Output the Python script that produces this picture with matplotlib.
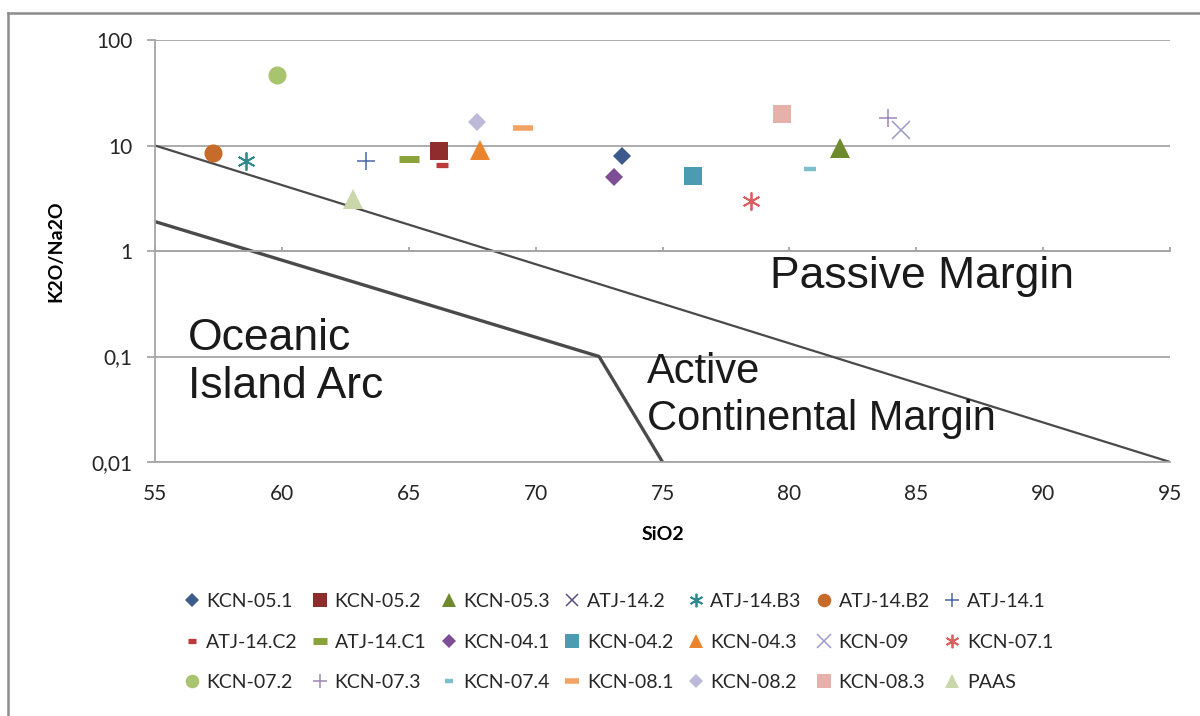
import numpy as np
import matplotlib
matplotlib.use("Agg")
import matplotlib.pyplot as plt
from matplotlib.lines import Line2D

# sample names, in legend order (row by row)
names = ["KCN-05.1", "KCN-05.2", "KCN-05.3", "ATJ-14.2", "ATJ-14.B3", "ATJ-14.B2", "ATJ-14.1",
         "ATJ-14.C2", "ATJ-14.C1", "KCN-04.1", "KCN-04.2", "KCN-04.3", "KCN-09", "KCN-07.1",
         "KCN-07.2", "KCN-07.3", "KCN-07.4", "KCN-08.1", "KCN-08.2", "KCN-08.3", "PAAS"]
sio2 = [73.4, 66.2, 82.0, np.nan, 58.6, 57.3, 63.3,
        66.3, 65.0, 73.1, 76.2, 67.8, 84.4, 78.5,
        59.8, 83.9, 80.8, 69.5, 67.7, 79.7, 62.8]
k2o_na2o = [7.9, 8.8, 9.4, np.nan, 7.2, 8.4, 7.2,
            6.5, 7.4, 5.0, 5.1, 9.0, 14.1, 3.0,
            47.0, 18.3, 6.0, 14.6, 16.6, 20.0, 3.1]

# discrimination boundaries
passive_x = [55, 95]
passive_y = [10, 0.01]
arc_x = [55, 72.5, 75]
arc_y = [1.9, 0.1, 0.01]

x_ticks = [55, 60, 65, 70, 75, 80, 85, 90, 95]
y_ticks = [0.01, 0.1, 1, 10, 100]
y_tick_labels = ["0,01", "0,1", "1", "10", "100"]

# marker, size, edge width, color
styles = {
    "KCN-05.1": ("D", 9.5, 0, "#3d5a8c"),
    "KCN-05.2": ("s", 13, 0, "#8e2d2b"),
    "KCN-05.3": ("^", 14, 0, "#6f8a2c"),
    "ATJ-14.2": ("x", 12, 1.1, "#5e4d7c"),
    "ATJ-14.B3": ((6, 2, 0), 13, 1.3, "#2f8a8e"),
    "ATJ-14.B2": ("o", 13, 0, "#c66b2a"),
    "ATJ-14.1": ("+", 13, 1.1, "#4a66a8"),
    "ATJ-14.C2": ("_", 8.5, 3.8, "#bb3a3a"),
    "ATJ-14.C1": ("_", 14, 5, "#89a23a"),
    "KCN-04.1": ("D", 9.5, 0, "#7d4e96"),
    "KCN-04.2": ("s", 13, 0, "#4b9cb0"),
    "KCN-04.3": ("^", 14, 0, "#ea842f"),
    "KCN-09": ("x", 13, 1.1, "#9c9acb"),
    "KCN-07.1": ((6, 2, 0), 13, 1.3, "#d9605e"),
    "KCN-07.2": ("o", 13, 0, "#a9c46f"),
    "KCN-07.3": ("+", 13, 1.1, "#9d87b8"),
    "KCN-07.4": ("_", 8, 3.2, "#7cc0cd"),
    "KCN-08.1": ("_", 14, 4, "#f3a363"),
    "KCN-08.2": ("D", 9.5, 0, "#bcbad8"),
    "KCN-08.3": ("s", 13, 0, "#e6b0ab"),
    "PAAS": ("^", 14, 0, "#cad7ab"),
}

plt.rcParams["font.family"] = ["Lato", "DejaVu Sans"]
grid_col = "#a6a6a6"

fig = plt.figure(figsize=(12, 7.16), dpi=100)
ax = fig.add_axes([155 / 1200, 1 - 462 / 716, 1015 / 1200, 422 / 716])

ax.plot(passive_x, passive_y, color="#4a4a4a", lw=1.6, zorder=2)
ax.plot(arc_x, arc_y, color="#4a4a4a", lw=2.4, zorder=2)

handles = []
for name, x, y in zip(names, sio2, k2o_na2o):
    m, ms, mew, c = styles[name]
    line, = ax.plot([x], [y], linestyle="none", marker=m, markersize=ms,
                    markeredgewidth=mew, color=c, markeredgecolor=c, label=name, zorder=3)
    handles.append(line)

ax.set_yscale("log")
ax.set_xlim(55, 95)
ax.set_ylim(0.01, 100)
ax.set_xticks(x_ticks)
ax.set_yticks(y_ticks)
ax.set_yticklabels(y_tick_labels)
ax.yaxis.set_minor_locator(matplotlib.ticker.NullLocator())
ax.grid(axis="y", color=grid_col, lw=1.3, zorder=0)

ax.spines["right"].set_visible(False)
ax.spines["left"].set_color(grid_col)
ax.spines["left"].set_linewidth(1.3)
ax.spines["bottom"].set_color(grid_col)
ax.spines["bottom"].set_linewidth(1.3)
# horizontal axis crosses at 1, like the spreadsheet chart
ax.spines["top"].set_position(("data", 1))
ax.spines["top"].set_color(grid_col)
ax.spines["top"].set_linewidth(1.3)

ax.tick_params(axis="y", direction="out", length=6, width=1.3, color=grid_col,
               pad=10, labelsize=15, labelcolor="#262626")
ax.tick_params(axis="x", direction="out", length=3, width=1.3, color=grid_col,
               bottom=False, top=True, labeltop=False, labelbottom=True,
               pad=13, labelsize=15, labelcolor="#262626")

ax.set_xlabel("SiO2", fontsize=14, fontweight="bold", labelpad=16)
ax.set_ylabel("K2O/Na2O", fontsize=14, fontweight="bold", labelpad=20)

region_font = dict(family=["Liberation Sans", "DejaVu Sans"],
                   color="#1a1a1a", va="baseline", ha="left")
ax.text(79.24, 0.446, "Passive Margin", fontsize=32, **region_font)
ax.text(56.3, 0.115, "Oceanic", fontsize=32, **region_font)
ax.text(56.3, 0.0404, "Island Arc", fontsize=32, **region_font)
ax.text(74.39, 0.0561, "Active", fontsize=30, **region_font)
ax.text(74.39, 0.0201, "Continental Margin", fontsize=30, **region_font)

# legend filled column-wise by matplotlib: reorder so it reads row by row
nrow, ncol = 3, 7
order = [r * ncol + c for c in range(ncol) for r in range(nrow)]
leg = fig.legend([handles[i] for i in order], [names[i] for i in order],
                 loc="center", bbox_to_anchor=(0.515, 1 - 642 / 716), ncol=ncol,
                 frameon=False, fontsize=14, markerscale=0.75, handlelength=0.9,
                 handletextpad=0.3, columnspacing=0.7, labelspacing=1.22)
for t in leg.get_texts():
    t.set_color("#262626")

# outer chart frame (only the top and left edges fall inside the image)
fig.add_artist(Line2D([8 / 1200, 1.0], [1 - 13 / 716, 1 - 13 / 716], color="#8c8c8c", lw=1.8))
fig.add_artist(Line2D([8 / 1200, 8 / 1200], [0.0, 1 - 13 / 716], color="#8c8c8c", lw=1.8))

fig.savefig("out.png", dpi=100)
